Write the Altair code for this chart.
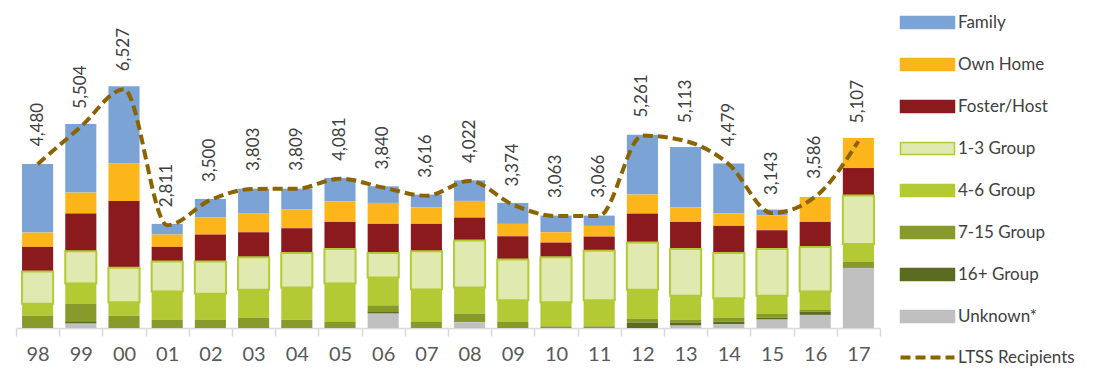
import altair as alt
import pandas as pd

years = ['98','99','00','01','02','03','04','05','06','07','08','09','10','11','12','13','14','15','16','17']
family  = [1877,1876,2112,292,511,683,573,637,455,347,563,573,456,282,1639,1649,1367,164,0,0]
own     = [391,574,1020,337,464,510,510,566,573,454,456,339,282,292,520,401,336,401,684,824]
foster  = [674,1029,1830,401,738,682,674,737,793,748,628,636,400,391,792,737,738,510,682,748]
g1_3    = [883,883,939,820,883,893,947,947,674,1047,1284,1112,1230,1349,1293,1284,1239,1284,1221,1331]
g4_6    = [322,549,367,767,704,759,877,1050,760,886,714,594,660,714,794,649,531,486,494,489]
g7_15   = [339,484,339,230,230,284,230,166,164,166,237,166,46,46,99,91,109,109,55,164]
g16     = [0,63,0,0,0,0,0,0,63,0,0,0,0,0,150,73,74,54,90,0]
unknown = [0,120,0,0,0,0,0,0,393,0,156,0,0,0,0,66,101,230,358,1642]
ltss    = [4480,5504,6527,2811,3500,3803,3809,4081,3840,3616,4022,3374,3063,3066,5261,5113,4479,3143,3586,5107]

categories = ['Family','Own Home','Foster/Host','1-3 Group','4-6 Group','7-15 Group','16+ Group','Unknown*']
fills   = ['#7BA3D6','#FDB51C','#8B1A1F','#E0E9B0','#B3CA35','#879A2B','#5B6B1F','#C0C0C0']
strokes = ['#7BA3D6','#FDB51C','#8B1A1F','#B3CA35','#B3CA35','#879A2B','#5B6B1F','#C0C0C0']
series = [family, own, foster, g1_3, g4_6, g7_15, g16, unknown]

rows = []
for ci, (cat, vals) in enumerate(zip(categories, series)):
    for y, v in zip(years, vals):
        rows.append({'year': y, 'cat': cat, 'value': v, 'ord': len(categories) - ci})
bars_df = pd.DataFrame(rows)
line_df = pd.DataFrame({'year': years, 'ltss': ltss, 'series': 'LTSS Recipients'})

FONT = 'Lato'
LINE_COLOR = '#8B6400'

xenc = alt.X('year:N', sort=years, title=None,
             scale=alt.Scale(paddingInner=0, paddingOuter=0),
             axis=alt.Axis(labelAngle=0, labelFontSize=20, labelColor='#595959', labelFont=FONT,
                           domainColor='#d9d9d9', domainWidth=1.5, tickColor='#d9d9d9',
                           tickSize=8, tickWidth=1.5, tickBand='extent', labelPadding=8, grid=False))
yscale = alt.Scale(domain=[0, 8750], nice=False)

bar_legend = alt.Legend(title=None, orient='none', legendX=882, legendY=6,
                        symbolType='M-1,-1H8V1H-1Z', symbolSize=144, symbolStrokeWidth=1.5,
                        labelFont=FONT, labelFontSize=17, labelColor='#404040', labelOffset=43,
                        rowPadding=23, padding=0)

bars = alt.Chart(bars_df).mark_bar(width=alt.RelativeBandSize(0.72)).encode(
    x=xenc,
    y=alt.Y('value:Q', stack='zero', scale=yscale, axis=None),
    color=alt.Color('cat:N', scale=alt.Scale(domain=categories, range=fills), legend=bar_legend),
    stroke=alt.Stroke('cat:N', scale=alt.Scale(domain=categories, range=strokes), legend=bar_legend),
    strokeWidth=alt.condition(alt.datum.cat == '1-3 Group', alt.value(2), alt.value(0)),
    order=alt.Order('ord:Q'),
)

line = alt.Chart(line_df).mark_line(color=LINE_COLOR, strokeWidth=4, interpolate='monotone').encode(
    x=alt.X('year:N', sort=years),
    y=alt.Y('ltss:Q', scale=yscale, axis=None),
    strokeDash=alt.StrokeDash('series:N', scale=alt.Scale(domain=['LTSS Recipients'], range=[[10, 5]]),
                              legend=alt.Legend(title=None, orient='none', legendX=882, legendY=341,
                                                symbolType='M-1,0H8', symbolSize=144,
                                                symbolStrokeColor=LINE_COLOR, symbolStrokeWidth=4,
                                                labelFont=FONT, labelFontSize=17, labelColor='#404040',
                                                labelOffset=43, padding=0)),
)

labels = alt.Chart(line_df).mark_text(angle=270, align='left', baseline='middle', dx=18,
                                       font=FONT, fontSize=17, color='#404040').encode(
    x=alt.X('year:N', sort=years),
    y=alt.Y('ltss:Q', scale=yscale, axis=None),
    text=alt.Text('ltss:Q', format=','),
)

chart = alt.layer(bars, line, labels).properties(
    width=864, height=320,
    padding={'left': 7, 'top': 0, 'right': 5, 'bottom': 2},
).configure_view(stroke=None)

chart.save('out.html', embed_options={'renderer': 'svg', 'actions': False})
